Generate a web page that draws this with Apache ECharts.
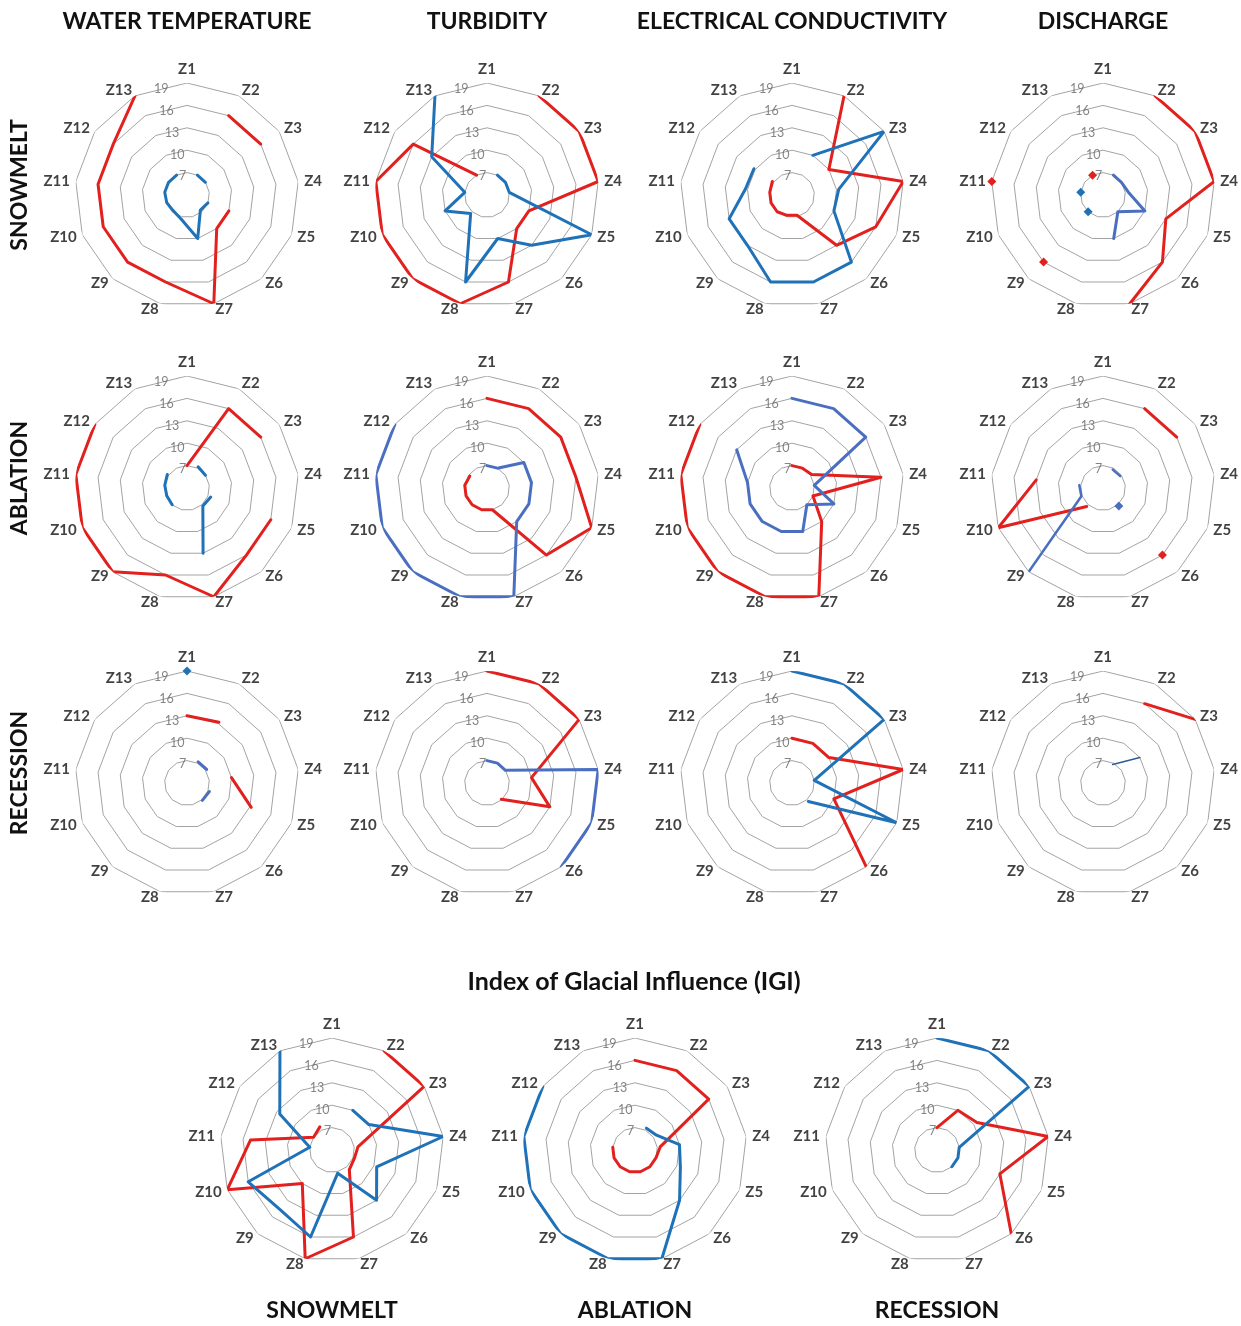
<!DOCTYPE html>
<html>
<head>
<meta charset="utf-8">
<script src="https://cdn.jsdelivr.net/npm/echarts@6/dist/echarts.min.js"></script>
<style>
  html, body { margin: 0; padding: 0; background: #ffffff; }
  #chart { width: 1241px; height: 1326px; }
</style>
</head>
<body>
<div id="chart"></div>
<script>
// Sampling zones around each radar, clockwise from the top
const ZONES = ['Z1','Z2','Z3','Z4','Z5','Z6','Z7','Z8','Z9','Z10','Z11','Z12','Z13'];
// Ring values labelled on every radar
const RING_TICKS = [7, 10, 13, 16, 19];
const RADIAL_MIN = 4;
const RADIAL_MAX = 19;

const COLUMN_TITLES = ['WATER TEMPERATURE', 'TURBIDITY', 'ELECTRICAL CONDUCTIVITY', 'DISCHARGE'];
const ROW_TITLES = ['SNOWMELT', 'ABLATION', 'RECESSION'];
const IGI_TITLE = 'Index of Glacial Influence (IGI)';
const IGI_PERIODS = ['SNOWMELT', 'ABLATION', 'RECESSION'];

// ---- values per zone (null = no value for that zone) ----
// Water temperature
const wtSnowRed  = [null, 16, 16, null, 10, 10, 19, 16, 16, 16, 16, 16, 19];
const wtSnowBlue = [null, 7, 7, null, 7, 6.7, 10, 7.3, 6.8, 6.9, 7, 7, 7];
const wtAblRed   = [7, 16, 16, null, 16, 16, 19, 16, 19, 19, 19, 19, null];
const wtAblBlue  = [null, 7.2, 7, null, 7.4, 7.2, 13, null, 7, 6.9, 7, 7.2, null];
const wtRecRed   = [13, 13.2, null, 10, 13.2, null, null, null, null, null, null, null, null];
const wtRecBlue  = [null, 7.2, 7.2, null, 7.2, 7.1, null, null, null, null, null, null, null];
const wtRecBlue2 = [19, null, null, null, null, null, null, null, null, null, null, null, null];
// Turbidity
const tuSnowRed  = [null, 19, 19, 19, 10, 10, 16, 19, 19, 19, 19, 16, 7];
const tuSnowBlue = [null, 7, 7, 7, 19, 13, 10, 16, 7.3, 10, 7, 13, 19];
const tuAblRed   = [16, 16, 16, 16, 19, 16, 7, 7, 7, 7, 7, 6.8, null];
const tuAblBlue  = [7, 7, 10, 10, 10, 10, 19, 19, 19, 19, 19, 19, null];
const tuRecRed   = [19, 19, 19, 10, 13, 6.9, null, null, null, null, null, null, null];
const tuRecBlue  = [7, 7, 7, 19, 19, 19, null, null, null, null, null, null, null];
// Electrical conductivity
const ecSnowRed  = [null, 19, 10, 19, 16, 13, 6.8, 6.8, 7, 7, 7, 7.2, null];
const ecSnowBlue = [null, 10, 19, 10.3, 10, 16, 16, 16, 13, 13, 10.3, 10.2, null];
const ecAblRed   = [7, 7, 7.2, 16, 7, 10, 19, 19, 19, 19, 19, 19, null];
const ecAblBlue  = [16, 16, 16, 7, 10, 7, 10, 10, 10, 10, 10, 13, null];
const ecRecRed   = [10, 10, 10, 19, 10, 19, null, null, null, null, null, null, null];
const ecRecBlue  = [19, 19, 19, 7, 19, 7.3, null, null, null, null, null, null, null];
// Discharge
const diSnowRed  = [null, 19, 19, 19, 13, 16, 19, null, 16, null, 19, null, 7];
const diSnowBlue = [null, 7, 7, 7.4, 10, 7, 10, null, 7, null, 7, null, null];
const diAblRed   = [null, 16, 16, null, null, 16, null, null, 7.3, 19, 13, null, null];
const diAblBlue  = [null, 6.8, 6.8, null, null, 7.2, null, null, 19, 7.1, 7.2, null, null];
const diRecRed   = [null, 16, 19, null, null, null, null, null, null, null, null, null, null];
const diRecBlue  = [null, 6.8, 10, null, null, null, null, null, null, null, null, null, null];
// Index of Glacial Influence
const igiSnowRed  = [null, 19, 19, 7.5, 7.2, 7.5, 16, 19, 10, 19, 15, 7, 7.5];
const igiSnowBlue = [null, 10, 10, 19, 10.4, 13, 7.2, 16, 14.6, 16, 7, 12.5, 19];
const igiAblRed   = [16, 16, 16, 7.4, 7, 7, 7, 7, 7, 7, 7, null, null];
const igiAblBlue  = [null, 7.3, 7.5, 10, 10.5, 13, 19, 19, 19, 19, 19, 19, null];
const igiRecRed   = [7, 10, 10.5, 19, 13, 19, null, null, null, null, null, null, null];
const igiRecBlue  = [19, 19, 19, 7, 7, 7, null, null, null, null, null, null, null];

// ---- styling ----
const RED = '#e2201d';
const BLUE = '#1f72b8';
const LIGHT_BLUE = '#4a6fc1';
const NAVY = '#2f5a98';
const GRID_COLOR = '#a3a3a3';
const FONT = 'Lato, "Open Sans", sans-serif';
const RADIUS = 112;      // px, outer ring
const NAME_GAP = 6;      // px between outer ring and zone names

const COL_X = [187, 487, 792, 1103];
const ROW_Y = [195, 488, 783];
const IGI_X = [332, 635, 937];
const IGI_Y = 1150;

function L(values, color, width, markColor) {
  return { values, color, width: width || 3, markColor: markColor || color };
}

const PANELS = [
  { cx: COL_X[0], cy: ROW_Y[0], lines: [L(wtSnowRed, RED), L(wtSnowBlue, BLUE)] },
  { cx: COL_X[1], cy: ROW_Y[0], lines: [L(tuSnowRed, RED), L(tuSnowBlue, BLUE)] },
  { cx: COL_X[2], cy: ROW_Y[0], lines: [L(ecSnowRed, RED), L(ecSnowBlue, BLUE)] },
  { cx: COL_X[3], cy: ROW_Y[0], lines: [L(diSnowRed, RED), L(diSnowBlue, LIGHT_BLUE, 3, BLUE)] },
  { cx: COL_X[0], cy: ROW_Y[1], lines: [L(wtAblRed, RED), L(wtAblBlue, BLUE)] },
  { cx: COL_X[1], cy: ROW_Y[1], lines: [L(tuAblRed, RED), L(tuAblBlue, LIGHT_BLUE)] },
  { cx: COL_X[2], cy: ROW_Y[1], lines: [L(ecAblRed, RED), L(ecAblBlue, LIGHT_BLUE)] },
  { cx: COL_X[3], cy: ROW_Y[1], lines: [L(diAblRed, RED), L(diAblBlue, LIGHT_BLUE, 2.5)] },
  { cx: COL_X[0], cy: ROW_Y[2], lines: [L(wtRecRed, RED), L(wtRecBlue, LIGHT_BLUE), L(wtRecBlue2, BLUE)] },
  { cx: COL_X[1], cy: ROW_Y[2], lines: [L(tuRecRed, RED), L(tuRecBlue, LIGHT_BLUE)] },
  { cx: COL_X[2], cy: ROW_Y[2], lines: [L(ecRecRed, RED), L(ecRecBlue, BLUE)] },
  { cx: COL_X[3], cy: ROW_Y[2], lines: [L(diRecRed, RED), L(diRecBlue, NAVY, 1.5)] },
  { cx: IGI_X[0], cy: IGI_Y, lines: [L(igiSnowRed, RED), L(igiSnowBlue, BLUE)] },
  { cx: IGI_X[1], cy: IGI_Y, lines: [L(igiAblRed, RED), L(igiAblBlue, BLUE)] },
  { cx: IGI_X[2], cy: IGI_Y, lines: [L(igiRecRed, RED), L(igiRecBlue, BLUE)] }
];

const N = ZONES.length;
const polar = [], angleAxis = [], radiusAxis = [], series = [];

// radial value that sits NAME_GAP px outside the outer ring
const NAME_RADIUS = RADIAL_MAX + NAME_GAP / RADIUS * (RADIAL_MAX - RADIAL_MIN);

// zone name items: text sits beside its anchor, on the outward side
const zoneNameItems = ZONES.map((z, i) => {
  const a = i / N * 2 * Math.PI;
  const ux = Math.sin(a), uy = -Math.cos(a);
  let pos;
  if (Math.abs(ux) < 0.1) pos = uy < 0 ? 'top' : 'bottom';
  else pos = ux > 0 ? 'right' : 'left';
  return { value: [NAME_RADIUS, i], name: z, label: { position: pos } };
});

// [radius, angle] points for one zone profile; the last point closes the loop back to Z1
function profilePoints(values, markColor) {
  const pts = [];
  for (let i = 0; i <= N; i++) {
    const k = i % N;
    const v = values[k];
    const prev = values[(k + N - 1) % N];
    const next = values[(k + 1) % N];
    if (v == null) { pts.push(['-', i]); continue; }
    if (i < N && prev == null && next == null) {
      pts.push({ value: [v, i], symbol: 'diamond', symbolSize: 9, itemStyle: { color: markColor } });
    } else {
      pts.push([v, i]);
    }
  }
  return pts;
}

PANELS.forEach((p, idx) => {
  polar.push({ center: [p.cx, p.cy], radius: RADIUS });
  angleAxis.push({
    polarIndex: idx, type: 'value', min: 0, max: N, interval: 1,
    startAngle: 90, clockwise: true, show: false
  });
  radiusAxis.push({ polarIndex: idx, type: 'value', min: RADIAL_MIN, max: RADIAL_MAX, show: false });

  // polygon rings
  RING_TICKS.forEach(t => {
    const ring = [];
    for (let i = 0; i <= N; i++) ring.push([t, i]);
    series.push({
      type: 'line', coordinateSystem: 'polar', polarIndex: idx, data: ring,
      symbol: 'none', silent: true, z: 1, clip: false,
      lineStyle: { color: GRID_COLOR, width: 1 }
    });
  });
  // ring value labels, between Z13 and Z1
  series.push({
    type: 'scatter', coordinateSystem: 'polar', polarIndex: idx, silent: true, z: 2, clip: false,
    data: RING_TICKS.map(t => [t, N - 0.5]),
    symbolSize: 1, itemStyle: { color: 'rgba(0,0,0,0)' },
    label: {
      show: true, position: 'inside', offset: [1, 3],
      formatter: q => String(q.value[0]),
      color: '#666666', fontFamily: FONT, fontSize: 12.5
    }
  });
  // zone names
  series.push({
    type: 'scatter', coordinateSystem: 'polar', polarIndex: idx, silent: true, z: 2, clip: false,
    data: zoneNameItems,
    symbolSize: 0, itemStyle: { color: 'rgba(0,0,0,0)' },
    label: {
      show: true, distance: 0, formatter: q => q.name,
      color: '#111', fontFamily: FONT, fontWeight: 'bold', fontSize: 15
    }
  });
  // zone profiles
  p.lines.forEach(line => {
    series.push({
      type: 'line', coordinateSystem: 'polar', polarIndex: idx, clip: false,
      data: profilePoints(line.values, line.markColor),
      symbol: 'none', showSymbol: true, connectNulls: false, silent: true, z: 3,
      lineStyle: { color: line.color, width: line.width, cap: 'round', join: 'round' },
      itemStyle: { color: line.color }
    });
  });
});

function label(text, x, y, size, rotation) {
  return {
    type: 'text', x, y, rotation: rotation || 0, silent: true,
    style: {
      text, fill: '#111', fontFamily: FONT, fontWeight: 'bold', fontSize: size,
      align: 'center', verticalAlign: 'middle'
    }
  };
}

const graphic = [];
COLUMN_TITLES.forEach((t, i) => graphic.push(label(t, COL_X[i], 22, 23)));
ROW_TITLES.forEach((t, i) => graphic.push(label(t, 20, ROW_Y[i] - 10, 23, Math.PI / 2)));
graphic.push(label(IGI_TITLE, 634, 982, 25));
IGI_PERIODS.forEach((t, i) => graphic.push(label(t, IGI_X[i], 1311, 23)));

const chart = echarts.init(document.getElementById('chart'), null, { renderer: 'canvas' });
chart.setOption({
  animation: false,
  backgroundColor: '#ffffff',
  polar, angleAxis, radiusAxis, series, graphic
});
</script>
</body>
</html>
